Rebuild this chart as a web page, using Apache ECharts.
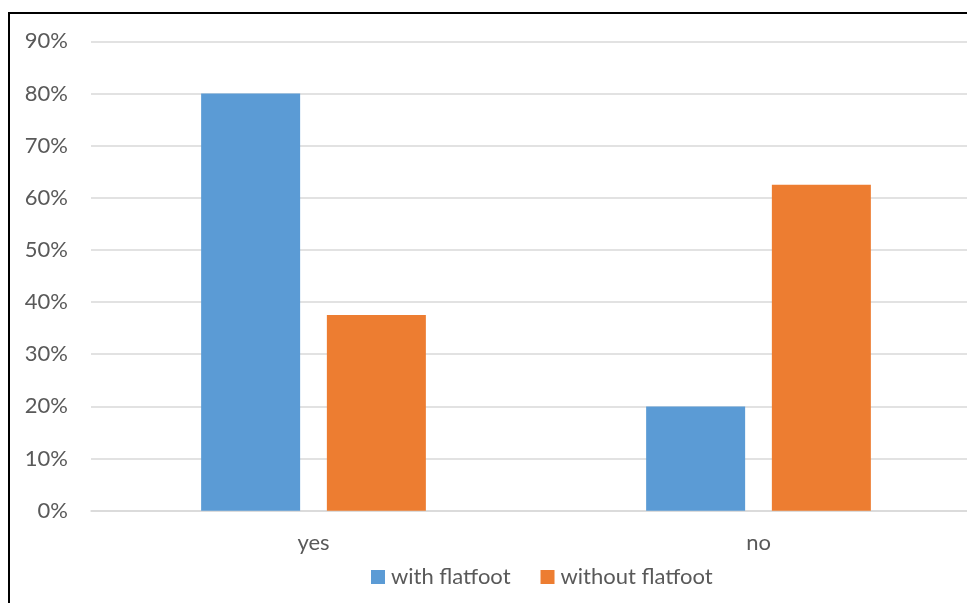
<!DOCTYPE html>
<html>
<head>
<meta charset="utf-8">
<script src="https://cdn.jsdelivr.net/npm/echarts@6/dist/echarts.min.js"></script>
<style>html,body{margin:0;padding:0;background:#fff;}#c{width:967px;height:603px;}</style>
</head>
<body>
<div id="c"></div>
<script>
const categories = ['yes', 'no'];
const seriesNames = ['with flatfoot', 'without flatfoot'];
const withFlatfoot = [80, 20];
const withoutFlatfoot = [37.5, 62.5];
const yTicks = { min: 0, max: 90, interval: 10 };

const FONT = 'Lato';
const TXT = '#595959';
const chart = echarts.init(document.getElementById('c'), null, { renderer: 'canvas' });
chart.setOption({
  animation: false,
  backgroundColor: '#ffffff',
  textStyle: { fontFamily: FONT },
  graphic: [{
    type: 'rect', silent: true, z: 100,
    shape: { x: 9, y: 13, width: 1100, height: 800 },
    style: { fill: 'none', stroke: '#000000', lineWidth: 2 }
  }],
  grid: { left: 91, width: 890, top: 41.3, height: 469.4, containLabel: false, outerBoundsMode: 'none' },
  legend: {
    left: 366, top: 561, itemWidth: 14, itemHeight: 14, itemGap: 30,
    icon: 'rect',
    textStyle: { color: TXT, fontFamily: FONT, fontSize: 22, padding: [0, 0, 0, 1] },
    data: seriesNames
  },
  xAxis: {
    type: 'category', data: categories,
    axisLine: { show: true, lineStyle: { color: '#d9d9d9', width: 1.5 } },
    axisTick: { show: false },
    axisLabel: { color: TXT, fontFamily: FONT, fontSize: 22, margin: 21 }
  },
  yAxis: {
    type: 'value', min: yTicks.min, max: yTicks.max, interval: yTicks.interval,
    axisLine: { show: false }, axisTick: { show: false },
    axisLabel: { color: TXT, fontFamily: FONT, fontSize: 22, margin: 23, formatter: '{value}%' },
    splitLine: { show: true, lineStyle: { color: '#d9d9d9', width: 1.5 } }
  },
  series: [
    { name: seriesNames[0], type: 'bar', data: withFlatfoot, barWidth: 99, barGap: '27%',
      itemStyle: { color: '#5B9BD5' } },
    { name: seriesNames[1], type: 'bar', data: withoutFlatfoot, barWidth: 99, barGap: '27%',
      itemStyle: { color: '#ED7D31' } }
  ]
});
</script>
</body>
</html>
